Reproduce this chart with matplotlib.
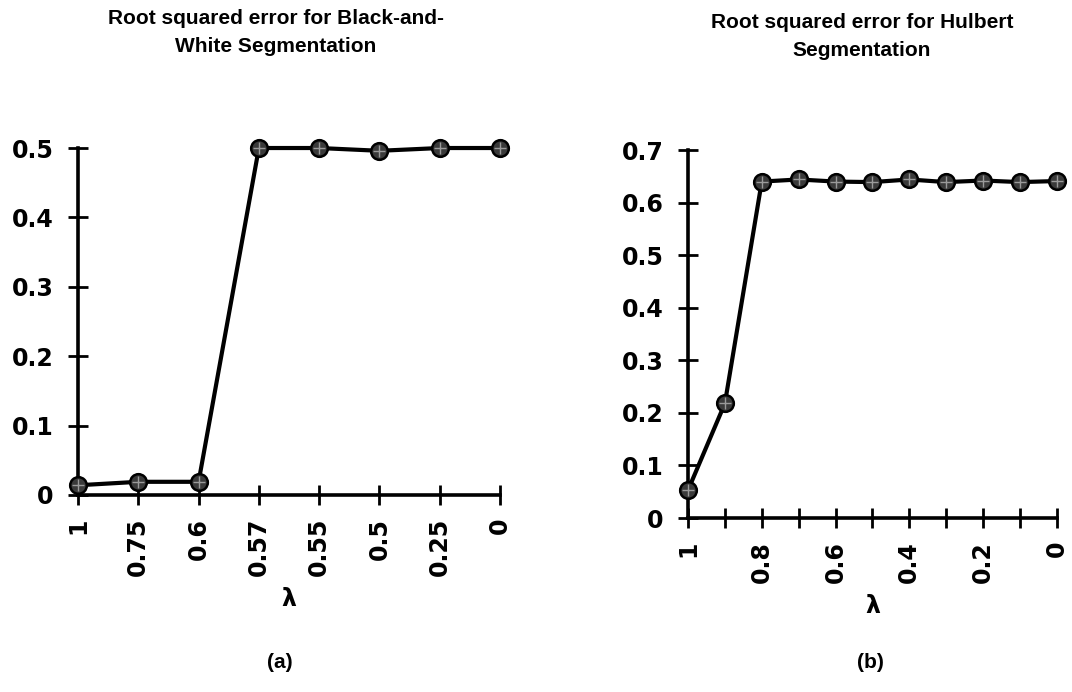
import matplotlib
matplotlib.use("Agg")
import matplotlib.pyplot as plt
from matplotlib.font_manager import FontProperties

# data
bw_labels = ["1", "0.75", "0.6", "0.57", "0.55", "0.5", "0.25", "0"]
bw_rse = [0.014, 0.019, 0.019, 0.500, 0.500, 0.496, 0.500, 0.500]

hb_lambda = [1.0, 0.9, 0.8, 0.7, 0.6, 0.5, 0.4, 0.3, 0.2, 0.1, 0.0]
hb_rse = [0.053, 0.218, 0.640, 0.644, 0.640, 0.639, 0.644, 0.639, 0.642, 0.639, 0.641]
hb_ticklabels = ["1", "", "0.8", "", "0.6", "", "0.4", "", "0.2", "", "0"]

TICK_FONT = dict(family="DejaVu Sans", weight="bold", size=17)
TITLE_FONT = dict(family="Liberation Sans", weight="bold", size=15)

fig = plt.figure(figsize=(10.72, 6.92), dpi=100)
ax_a = fig.add_axes([0.0728, 0.2847, 0.3936, 0.5014])
ax_b = fig.add_axes([0.6418, 0.2514, 0.3440, 0.5318])


def style_axes(ax):
    for side in ("top", "right"):
        ax.spines[side].set_visible(False)
    for side in ("left", "bottom"):
        ax.spines[side].set_linewidth(2.6)
    ax.tick_params(which="major", direction="inout", length=15,
                   width=2.0, color="black")
    ax.tick_params(axis="y", pad=10)
    ax.tick_params(axis="x", pad=9)
    fp = FontProperties(**TICK_FONT)
    for lab in ax.get_yticklabels() + ax.get_xticklabels():
        lab.set_fontproperties(fp)


def draw_series(ax, x, y):
    ax.plot(x, y, color="black", linewidth=3.0, marker="o", markersize=12,
            markerfacecolor="#3a3a3a", markeredgecolor="black",
            markeredgewidth=1.8, clip_on=False, zorder=3)
    ax.plot(x, y, linestyle="none", marker="+", markersize=8,
            markeredgecolor="#9a9a9a", markeredgewidth=1.0,
            clip_on=False, zorder=4)


# ── (a) Black-and-White ──────────────────────────────────────────────
xa = list(range(len(bw_labels)))
draw_series(ax_a, xa, bw_rse)
ax_a.set_xlim(0, len(bw_labels) - 1)
ax_a.set_ylim(0, 0.5)
ax_a.set_xticks(xa)
ax_a.set_xticklabels(bw_labels, rotation=90)
ax_a.set_yticks([0, 0.1, 0.2, 0.3, 0.4, 0.5])
ax_a.set_yticklabels(["0", "0.1", "0.2", "0.3", "0.4", "0.5"])
style_axes(ax_a)
ax_a.set_xlabel("λ", fontsize=17, fontweight="bold", labelpad=8)

# ── (b) Hulbert ──────────────────────────────────────────────────────
draw_series(ax_b, hb_lambda, hb_rse)
ax_b.set_xlim(1, 0)
ax_b.set_ylim(0, 0.7)
ax_b.set_xticks(hb_lambda)
ax_b.set_xticklabels(hb_ticklabels, rotation=90)
ax_b.set_yticks([0, 0.1, 0.2, 0.3, 0.4, 0.5, 0.6, 0.7])
ax_b.set_yticklabels(["0", "0.1", "0.2", "0.3", "0.4", "0.5", "0.6", "0.7"])
style_axes(ax_b)
ax_b.set_xlabel("λ", fontsize=17, fontweight="bold", labelpad=8)

# titles and panel tags
fig.text(276 / 1072, 1 - 33 / 692,
         "Root squared error for Black-and-\nWhite Segmentation",
         ha="center", va="center", linespacing=1.6, **TITLE_FONT)
fig.text(862 / 1072, 1 - 36 / 692,
         "Root squared error for Hulbert\nSegmentation",
         ha="center", va="center", linespacing=1.6, **TITLE_FONT)
fig.text(280 / 1072, 1 - 662 / 692, "(a)", ha="center", va="center", **TITLE_FONT)
fig.text(870 / 1072, 1 - 662 / 692, "(b)", ha="center", va="center", **TITLE_FONT)

fig.savefig("out.png", dpi=100)
